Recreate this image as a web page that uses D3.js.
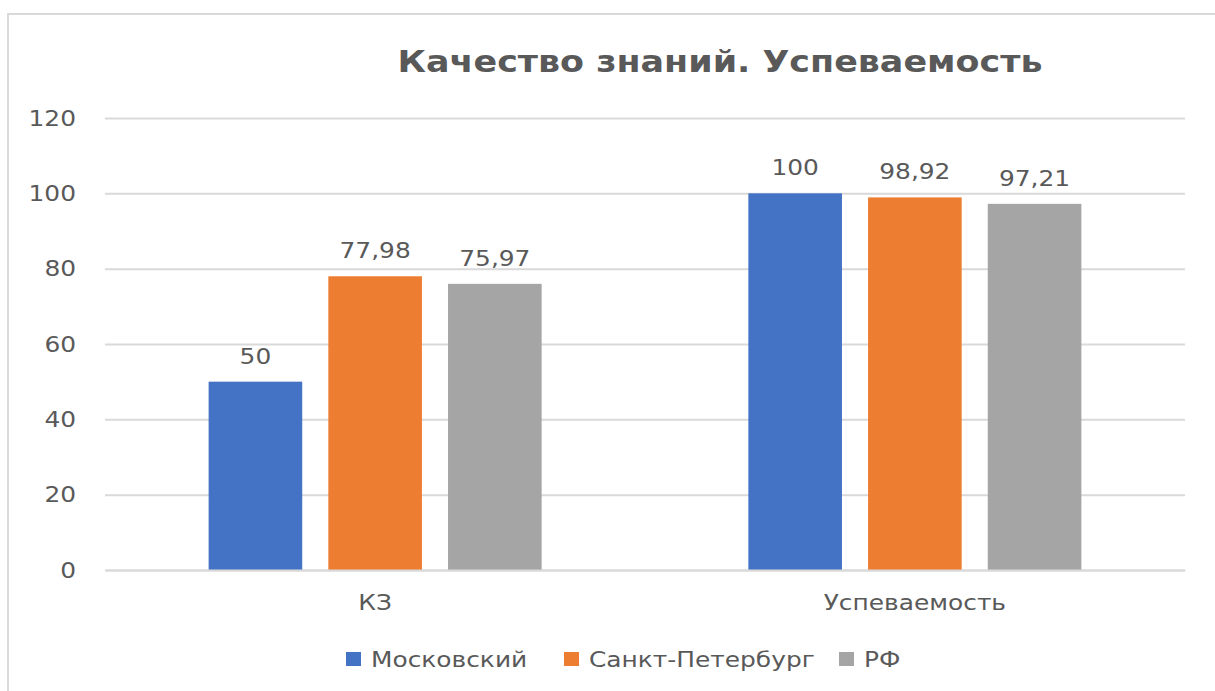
<!DOCTYPE html>
<html>
<head>
<meta charset="utf-8">
<script src="https://cdn.jsdelivr.net/npm/d3@7"></script>
<style>
    body { margin: 0; background: #fff; }
    text { font-family: "DejaVu Sans", sans-serif; fill: #595959; }
</style>
</head>
<body>
<svg id="drawing_region"></svg>
<script>
const categories = ['КЗ', 'Успеваемость'];
const seriesNames = ['Московский', 'Санкт-Петербург', 'РФ'];
const seriesValues = [
    [50, 100],
    [77.98, 98.92],
    [75.97, 97.21]
];
const yTicks = [0, 20, 40, 60, 80, 100, 120];
const colors = ['#4472C4', '#ED7D31', '#A5A5A5'];

const width = 1215, height = 691;
const margin = { top: 118, right: 30, bottom: 121, left: 105 };

// the reference text is a bit wider than DejaVu, stretch it
function stretch(sel, k) {
    sel.each(function () {
        const w = this.getComputedTextLength();
        d3.select(this)
            .attr('textLength', w * (k || 1.13))
            .attr('lengthAdjust', 'spacingAndGlyphs');
    });
}

const svg = d3.select('#drawing_region')
    .attr('width', width)
    .attr('height', height);

// chart border
svg.append('rect')
    .attr('x', 8).attr('y', 14)
    .attr('width', width + 20).attr('height', height + 20)
    .attr('fill', 'none')
    .attr('stroke', '#D9D9D9')
    .attr('stroke-width', 2);

const innerW = width - margin.left - margin.right;
const innerH = height - margin.top - margin.bottom;
const chart = svg.append('g')
    .attr('transform', `translate(${margin.left}, ${margin.top})`);

const yscale = d3.scaleLinear().domain([0, 120]).range([innerH, 0]);
const xscale = d3.scaleBand()
    .domain(categories)
    .range([0, innerW])
    .paddingInner(0.383)
    .paddingOuter(0.192);
const sub = d3.scaleBand()
    .domain(seriesNames)
    .range([0, xscale.bandwidth()])
    .paddingInner(0.218);

// gridlines + y labels
const yaxis = d3.axisLeft(yscale).tickValues(yTicks).tickSize(-innerW).tickPadding(29);
const yg = chart.append('g').call(yaxis);
yg.select('.domain').remove();
yg.selectAll('line').attr('stroke', '#D9D9D9').attr('stroke-width', 2);
yg.selectAll('text')
    .attr('font-size', 22)
    .attr('fill', '#595959')
    .attr('font-family', 'DejaVu Sans')
    .call(stretch);

// bars
const data = [];
seriesNames.forEach((s, i) => {
    categories.forEach((c, j) => data.push({ series: s, cat: c, value: seriesValues[i][j], color: colors[i] }));
});

chart.selectAll('rect.bar').data(data)
    .join('rect')
    .attr('class', 'bar')
    .attr('x', d => xscale(d.cat) + sub(d.series))
    .attr('y', d => yscale(d.value))
    .attr('width', sub.bandwidth())
    .attr('height', d => innerH - yscale(d.value))
    .attr('fill', d => d.color);

chart.selectAll('text.lbl').data(data)
    .join('text')
    .attr('class', 'lbl')
    .attr('x', d => xscale(d.cat) + sub(d.series) + sub.bandwidth() / 2)
    .attr('y', d => yscale(d.value) - 18)
    .attr('text-anchor', 'middle')
    .attr('font-size', 22)
    .text(d => String(d.value).replace('.', ','))
    .call(stretch);

// x axis
const xaxis = d3.axisBottom(xscale).tickSize(0).tickPadding(24);
const xg = chart.append('g')
    .attr('transform', `translate(0, ${innerH})`)
    .call(xaxis);
xg.select('.domain').attr('stroke', '#D9D9D9').attr('stroke-width', 2);
xg.selectAll('text')
    .attr('font-size', 22)
    .attr('fill', '#595959')
    .attr('font-family', 'DejaVu Sans')
    .call(stretch);

// title
svg.append('text')
    .attr('x', 720).attr('y', 72)
    .attr('text-anchor', 'middle')
    .attr('font-size', 31)
    .attr('font-weight', 'bold')
    .text('Качество знаний. Успеваемость')
    .call(stretch, 1.125);

// legend
const legendX = [346, 564, 839];
const legend = svg.append('g');
const items = legend.selectAll('g').data(seriesNames)
    .join('g')
    .attr('transform', (d, i) => `translate(${legendX[i]}, 659)`);
items.append('rect')
    .attr('x', 0).attr('y', -7)
    .attr('width', 15).attr('height', 14)
    .attr('fill', (d, i) => colors[i]);
items.append('text')
    .attr('x', 25).attr('y', 8)
    .attr('font-size', 22)
    .text(d => d)
    .call(stretch);
</script>
</body>
</html>
